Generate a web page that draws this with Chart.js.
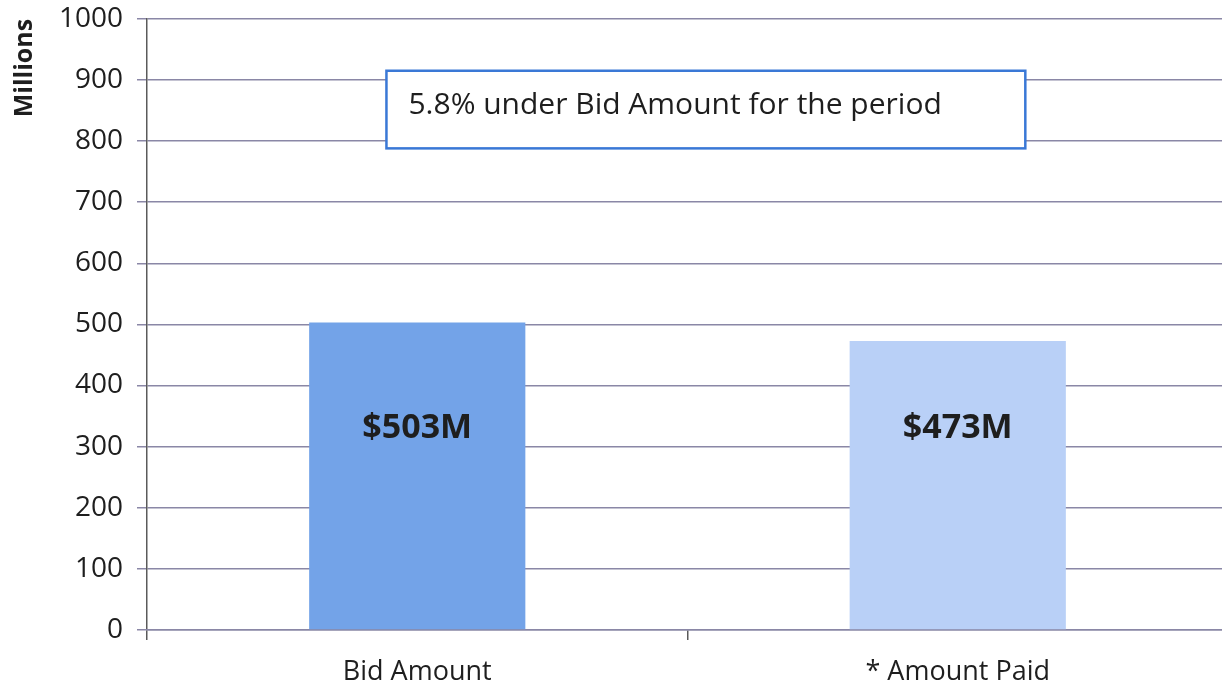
<!DOCTYPE html>
<html>
<head>
<meta charset="utf-8">
<script src="https://cdn.jsdelivr.net/npm/chart.js@4.4.1/dist/chart.umd.min.js"></script>
<style>
    html, body { margin: 0; padding: 0; background: #fff; overflow: hidden; }
    #wrap { width: 1222px; height: 686px; overflow: hidden; position: relative; }
    #box { width: 1240px; height: 712px; position: absolute; left: 0; top: -12px; }
</style>
</head>
<body>
<div id="wrap"><div id="box"><canvas id="bidChart"></canvas></div></div>
<script>
// Bid vs. paid totals, in millions
const categories = ['Bid Amount', '* Amount Paid'];
const amounts = [503, 473];
const barLabels = ['$503M', '$473M'];
const barColors = ['#73a3e8', '#b9d0f7'];
const calloutText = '5.8% under Bid Amount for the period';

const FONT = "'Open Sans', 'DejaVu Sans', sans-serif";

// Value text inside each bar
const barTextPlugin = {
    id: 'barText',
    afterDatasetsDraw(chart) {
        const ctx = chart.ctx;
        const yScale = chart.scales.y;
        const meta = chart.getDatasetMeta(0);
        ctx.save();
        ctx.font = 'bold 34px ' + FONT;
        ctx.fillStyle = '#1e1e1e';
        ctx.textAlign = 'center';
        ctx.textBaseline = 'middle';
        meta.data.forEach((bar, i) => {
            ctx.fillText(barLabels[i], bar.x, yScale.getPixelForValue(330));
        });
        ctx.restore();
    }
};

// Callout box near the top of the plot
const calloutPlugin = {
    id: 'callout',
    afterDraw(chart) {
        const ctx = chart.ctx;
        const area = chart.chartArea;
        const yScale = chart.scales.y;
        const w = area.right - area.left;
        const left = area.left + w * 0.2215;
        const right = area.left + w * 0.8125;
        const top = yScale.getPixelForValue(915);
        const bottom = yScale.getPixelForValue(788);
        ctx.save();
        ctx.fillStyle = '#fff';
        ctx.fillRect(left, top, right - left, bottom - top);
        ctx.strokeStyle = '#3a78d6';
        ctx.lineWidth = 2.5;
        ctx.strokeRect(left, top, right - left, bottom - top);
        ctx.font = '30px ' + FONT;
        ctx.fillStyle = '#1e1e1e';
        ctx.textAlign = 'left';
        ctx.textBaseline = 'middle';
        ctx.fillText(calloutText, left + 22, (top + bottom) / 2 - 4);
        ctx.restore();
    }
};

new Chart(document.getElementById('bidChart'), {
    type: 'bar',
    data: {
        labels: categories,
        datasets: [{
            data: amounts,
            backgroundColor: barColors,
            borderWidth: 0,
            categoryPercentage: 0.8,
            barPercentage: 0.5
        }]
    },
    options: {
        responsive: true,
        maintainAspectRatio: false,
        animation: false,
        layout: { padding: { left: 10, right: 12, top: 0, bottom: 0 } },
        plugins: {
            legend: { display: false },
            tooltip: { enabled: false }
        },
        scales: {
            y: {
                min: 0,
                max: 1000,
                ticks: {
                    stepSize: 100,
                    padding: 14,
                    color: '#1e1e1e',
                    font: { family: FONT, size: 28 },
                    callback: (v) => String(v)
                },
                grid: {
                    color: '#8a87a6',
                    lineWidth: 1.5,
                    tickLength: 10
                },
                border: { color: '#5a5a5a', width: 1.5 },
                title: {
                    display: true,
                    text: 'Millions',
                    align: 'end',
                    color: '#1e1e1e',
                    font: { family: FONT, size: 25, weight: 'bold' },
                    padding: { top: 0, bottom: 0 }
                },
                afterFit(scale) { scale.width = 137; }
            },
            x: {
                ticks: {
                    padding: 16,
                    color: '#1e1e1e',
                    font: { family: FONT, size: 27 }
                },
                grid: {
                    display: true,
                    drawOnChartArea: false,
                    color: '#5a5a5a',
                    lineWidth: 1.5,
                    tickLength: 10
                },
                border: { color: '#8a87a6', width: 1.5 },
                afterFit(scale) { scale.height = 70; }
            }
        }
    },
    plugins: [barTextPlugin, calloutPlugin]
});
</script>
</body>
</html>
